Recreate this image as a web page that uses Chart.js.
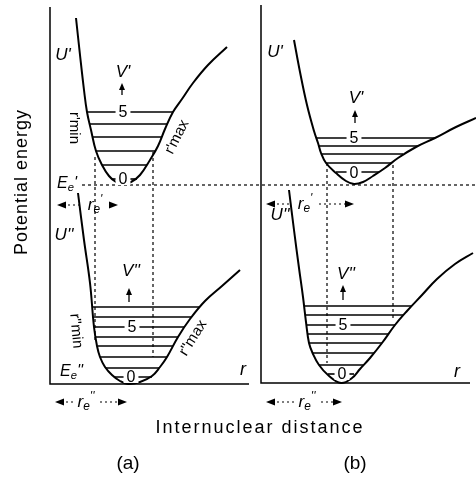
<!DOCTYPE html>
<html><head><meta charset="utf-8">
<script src="https://cdn.jsdelivr.net/npm/chart.js@4"></script>
<style>html,body{margin:0;padding:0;background:#fff}canvas{display:block}</style>
</head><body>
<canvas id="c" width="476" height="478"></canvas>
<script>
// Figure coordinates: r (internuclear distance, to the right), U (potential energy, on a reversed axis)
// Axes of the two panels
const axisA = [[50,7],[50,384],[249,384]];
const axisB = [[261,5],[261,383],[470,383]];
// Potential curves (r, U)
const curveUpperA = [[76,18],[80,55],[84,90],[87,112],[91,130],[96,151],[102,165],[109,176],[116,182],[122,184],[131,182],[140,175],[150,160],[158,146],[165,129],[173,112],[182,99],[193,83],[208,65],[227,47]];
const curveLowerA = [[78,193],[84,240],[90,283],[94,327],[97,346],[100,357],[105,367],[112,375],[120,381],[128,384],[140,382],[152,376],[160,367],[167,357],[178,337],[190,319],[205,301],[222,286],[240,270]];
const curveUpperB = [[294,40],[300,72],[307,105],[314,131],[318,143],[321,153],[326,163],[336,173],[346,181],[354,184],[363,182],[373,176],[385,168],[398,158],[416,147],[435,138],[456,127],[476,118]];
const curveLowerB = [[289,190],[294,230],[299,268],[303,297],[306,322],[309,343],[313,354],[319,365],[328,375],[341,383],[352,378],[360,369],[370,358],[382,343],[395,325],[407,311],[422,295],[437,279],[455,264],[473,253]];
// Vibrational levels: [U, r_min, r_max]
const levelsUpperA = [[112,87,173],[124,90,167],[137,93,162],[151,96,156],[165,102,147],[179,112,137]];
const levelsLowerA = [[307,93,199],[317,94,192],[327,95,184],[337,96,178],[346,98,173],[357,100,167],[368,106,159],[377,115,152]];
const levelsUpperB = [[138,316,435],[146,319,418],[154,321,403],[163,326,392],[172,336,379]];
const levelsLowerB = [[306,304,412],[315,305,403],[325,306,395],[334,308,388],[343,309,382],[353,313,374],[365,319,364],[374,328,354]];
// Dashed guide lines
const dashedLines = [
  [[82,185],[476,185]],
  [[95,157],[95,340]],
  [[153,152],[153,357]],
  [[327,163],[327,363]],
  [[393,165],[393,318]]
];
// r_e arrows: [U, r_from, r_to, label center r, primes]
const reArrows = [[205,57,118,95,"'"],[204,266,354,305,"'"],[402,55,127,86,"''"],[402,266,342,307,"''"]];
// Quantum number labels: [text, r, U]
const levelLabels = [["5",123,112],["0",123,179],["5",132,327],["0",131,377],["5",354,138],["0",354,173],["5",343,325],["0",342,374]];

const pts = a => a.map(([x,y]) => ({x, y}));
const datasets = [];
function addLine(a, w, opts) {
  datasets.push(Object.assign({data: pts(a), showLine: true, borderColor: '#000', borderWidth: w,
    pointRadius: 0, fill: false, tension: 0}, opts || {}));
}
addLine(axisA, 1.5);
addLine(axisB, 1.5);
[curveUpperA, curveLowerA, curveUpperB, curveLowerB].forEach(c =>
  addLine(c, 2, {tension: 0.4}));
[levelsUpperA, levelsLowerA, levelsUpperB, levelsLowerB].forEach(L =>
  L.forEach(([u, r1, r2]) => addLine([[r1, u], [r2, u]], 1.6)));
dashedLines.forEach(d => addLine(d, 1.2, {borderDash: [3, 3]}));

const SANS = '"Liberation Sans", Arial, Helvetica, sans-serif';

function rich(ctx, parts, x, y, size, italic, align) {
  // parts: [text, mode] mode: 0 normal, 1 sub, 2 sup
  const f = (s) => (italic ? 'italic ' : '') + s + 'px ' + SANS;
  let w = 0;
  parts.forEach(([t, m]) => { ctx.font = f(m ? size * 0.7 : size); w += ctx.measureText(t).width; });
  let cx = align === 'center' ? x - w / 2 : x;
  ctx.textBaseline = 'middle';
  ctx.textAlign = 'left';
  parts.forEach(([t, m]) => {
    const s = m ? size * 0.7 : size;
    ctx.font = f(s);
    const dy = m === 1 ? size * 0.25 : (m === 2 ? -size * 0.3 : 0);
    ctx.fillText(t, cx, y + dy);
    cx += ctx.measureText(t).width;
  });
  return w;
}

const labelPlugin = {
  id: 'labels',
  beforeDraw(chart) {
    const c = chart.ctx; c.save(); c.fillStyle = '#fff'; c.fillRect(0, 0, chart.width, chart.height); c.restore();
  },
  afterDatasetsDraw(chart) {
    const ctx = chart.ctx, xs = chart.scales.x, ys = chart.scales.y;
    const X = v => xs.getPixelForValue(v), Y = v => ys.getPixelForValue(v);
    ctx.save();
    ctx.fillStyle = '#000'; ctx.strokeStyle = '#000';
    // level labels with white gap
    levelLabels.forEach(([t, r, u]) => {
      ctx.font = '16px ' + SANS;
      const w = ctx.measureText(t).width;
      ctx.fillStyle = '#fff';
      ctx.fillRect(X(r) - w / 2 - 3, Y(u) - 6, w + 6, 12);
      ctx.fillStyle = '#000';
      ctx.textAlign = 'center'; ctx.textBaseline = 'middle';
      ctx.fillText(t, X(r), Y(u) + 1);
    });
    // r_e arrows
    reArrows.forEach(([u, r1, r2, rc, pr]) => {
      const y = Y(u), x1 = X(r1), x2 = X(r2), xc = X(rc);
      const tw = 22;
      ctx.lineWidth = 1.2; ctx.setLineDash([2, 3]);
      ctx.beginPath(); ctx.moveTo(x1 + 6, y); ctx.lineTo(xc - tw / 2 - 2, y);
      ctx.moveTo(xc + tw / 2 + 3, y); ctx.lineTo(x2 - 6, y); ctx.stroke();
      ctx.setLineDash([]);
      ctx.beginPath(); ctx.moveTo(x1, y); ctx.lineTo(x1 + 9, y - 3.5); ctx.lineTo(x1 + 9, y + 3.5); ctx.closePath(); ctx.fill();
      ctx.beginPath(); ctx.moveTo(x2, y); ctx.lineTo(x2 - 9, y - 3.5); ctx.lineTo(x2 - 9, y + 3.5); ctx.closePath(); ctx.fill();
      rich(ctx, [['r', 0], ['e', 1], [pr, 2]], xc, y, 17, true, 'center');
    });
    // vertical quantum number arrows
    const vArrows = [[122, 95, 83], [355, 123, 110], [129, 302, 288], [343, 300, 285]];
    vArrows.forEach(([r, u1, u2]) => {
      const x = X(r);
      ctx.lineWidth = 1.3;
      ctx.beginPath(); ctx.moveTo(x, Y(u1)); ctx.lineTo(x, Y(u2) + 4); ctx.stroke();
      ctx.beginPath(); ctx.moveTo(x, Y(u2)); ctx.lineTo(x - 3, Y(u2) + 7); ctx.lineTo(x + 3, Y(u2) + 7); ctx.closePath(); ctx.fill();
    });
    // italic symbol labels
    rich(ctx, [['V', 0], ["'", 0]], X(123), Y(72), 17, true, 'center');
    rich(ctx, [['V', 0], ["'", 0]], X(356), Y(98), 17, true, 'center');
    rich(ctx, [['V', 0], ["''", 0]], X(131), Y(271), 17, true, 'center');
    rich(ctx, [['V', 0], ["''", 0]], X(346), Y(274), 17, true, 'center');
    rich(ctx, [['U', 0], ["'", 0]], X(63), Y(55), 17, true, 'center');
    rich(ctx, [['U', 0], ["''", 0]], X(64), Y(235), 17, true, 'center');
    rich(ctx, [['U', 0], ["'", 0]], X(275), Y(52), 17, true, 'center');
    rich(ctx, [['U', 0], ["''", 0]], X(280), Y(215), 17, true, 'center');
    rich(ctx, [['E', 0], ['e', 1], ["'", 0]], X(57), Y(184), 16, true, 'left');
    rich(ctx, [['E', 0], ['e', 1], ["''", 0]], X(60), Y(372), 16, true, 'left');
    rich(ctx, [['r', 0]], X(243), Y(370), 18, true, 'center');
    rich(ctx, [['r', 0]], X(457), Y(372), 18, true, 'center');
    // rotated r_min / r_max
    const rot = [[74, 128, 90, "'", 'min'], [177, 137, -63, "'", 'max'], [76, 331, 85, "''", 'min'], [193, 338, -58, "''", 'max']];
    rot.forEach(([r, u, ang, pr, sub]) => {
      ctx.save();
      ctx.translate(X(r), Y(u));
      ctx.rotate(ang * Math.PI / 180);
      rich(ctx, [['r', 0], [pr, 0], [sub, 0]], 0, 0, 15, false, 'center');
      ctx.restore();
    });
    // axis titles and panel labels
    ctx.fillStyle = '#000';
    ctx.font = '18px ' + SANS;
    ctx.textAlign = 'center'; ctx.textBaseline = 'middle';
    ctx.save();
    ctx.translate(22, 182); ctx.rotate(-Math.PI / 2);
    ctx.letterSpacing = '1px';
    ctx.fillText('Potential energy', 0, 0);
    ctx.restore();
    ctx.save();
    ctx.letterSpacing = '2px';
    ctx.fillText('Internuclear distance', 260, 428);
    ctx.restore();
    ctx.font = '19px ' + SANS;
    ctx.fillText('(a)', 128, 464);
    ctx.fillText('(b)', 355, 464);
    ctx.restore();
  }
};

new Chart(document.getElementById('c'), {
  type: 'scatter',
  data: {datasets},
  options: {
    responsive: false, animation: false, events: [],
    layout: {padding: 0},
    plugins: {legend: {display: false}, tooltip: {enabled: false}},
    scales: {
      x: {type: 'linear', min: 0, max: 476, display: false},
      y: {type: 'linear', min: 0, max: 478, reverse: true, display: false}
    },
    elements: {point: {radius: 0}}
  },
  plugins: [labelPlugin]
});
</script>
</body></html>
